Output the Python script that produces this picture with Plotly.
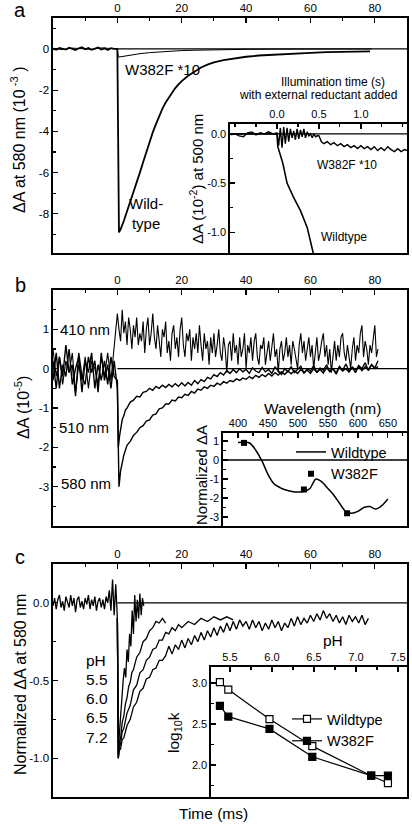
import plotly.graph_objects as go

FONT = "Liberation Sans, Arial, sans-serif"
W, H = 412, 824


def px(x):
    return x / W


def py(y):
    return 1 - y / H


# ---------------- Panel a (main) ----------------
a_wt_t = [-20, -19, -18, -17, -16, -15, -14, -13, -12, -11, -10, -9, -8, -7, -6, -5, -4, -3, -2, -1, 0,
          0.5, 1, 2, 3, 4, 5, 6, 7, 8, 9, 10, 11, 12, 13, 14, 15, 16, 17, 18, 19, 20, 22, 24, 26, 28,
          30, 33, 36, 40, 44, 48, 52, 56, 60, 65, 70, 75, 78.5]
a_wt_y = [0.02, -0.04, 0.05, 0.0, -0.03, 0.06, 0.01, -0.05, 0.03, 0.08, -0.02, 0.04, -0.04, 0.02, 0.07,
          -0.03, 0.03, -0.05, 0.04, 0.0, 0.0,
          -8.9, -8.75, -8.35, -7.9, -7.45, -7.0, -6.5, -6.0, -5.5, -5.0, -4.5, -4.05, -3.65, -3.25, -2.9,
          -2.6, -2.35, -2.1, -1.9, -1.72, -1.56, -1.3, -1.08, -0.9, -0.76, -0.65, -0.54, -0.46, -0.38,
          -0.32, -0.28, -0.24, -0.21, -0.19, -0.16, -0.14, -0.13, -0.12]

a_mut_t = [-20, -17, -14, -11, -8, -5, -2, 0, 0.3, 1, 2, 3, 5, 7, 10, 13, 16, 20, 25, 30, 35, 40, 50,
           60, 70, 79]
a_mut_y = [0.02, -0.03, 0.04, 0.0, -0.02, 0.05, 0.0, 0.0, -0.4, -0.38, -0.35, -0.32, -0.27, -0.23,
           -0.18, -0.14, -0.11, -0.08, -0.06, -0.04, -0.03, -0.02, -0.01, 0.0, 0.0, 0.0]

# ---------------- Panel a (inset) ----------------
ai_wt_t = [-0.55, -0.4, -0.2, 0.0, 0.01, 0.04, 0.07, 0.12, 0.195, 0.28, 0.36, 0.435, 0.46]
ai_wt_y = [0.0, 0.0, 0.0, 0.0, -0.13, -0.22, -0.3, -0.5, -0.64, -0.78, -0.95, -1.22, -1.3]

ai_mut_t = [-0.55, -0.5, -0.45, -0.4, -0.35, -0.3, -0.25, -0.2, -0.15, -0.1, -0.05, 0.0,
            0.02, 0.04, 0.06, 0.08, 0.10, 0.12, 0.14, 0.16, 0.18, 0.20, 0.22, 0.24, 0.26, 0.28,
            0.30, 0.32, 0.34, 0.36, 0.38, 0.40, 0.42, 0.44, 0.46, 0.48, 0.50,
            0.53, 0.56, 0.6, 0.64, 0.68, 0.72, 0.76, 0.8, 0.84, 0.88, 0.92, 0.96, 1.0, 1.04, 1.08,
            1.12, 1.16, 1.2, 1.24, 1.28, 1.32, 1.36, 1.4, 1.44, 1.48, 1.52, 1.55]
ai_mut_y = [-0.01, 0.0, -0.02, -0.03, 0.01, 0.02, -0.01, 0.01, 0.0, 0.02, 0.0, 0.01,
            -0.12, 0.06, -0.14, 0.07, -0.1, 0.06, -0.08, 0.05, -0.04, 0.03, -0.06, 0.05, -0.05, 0.04,
            -0.03, 0.05, -0.04, 0.02, -0.02, 0.0, -0.04, 0.0, -0.03, -0.02, -0.02,
            -0.08, -0.1, -0.08, -0.11, -0.09, -0.12, -0.1, -0.13, -0.11, -0.14, -0.12, -0.15, -0.12,
            -0.15, -0.13, -0.16, -0.13, -0.17, -0.14, -0.17, -0.13, -0.16, -0.18, -0.15, -0.18, -0.16,
            -0.17]

# ---------------- Panel b (main) ----------------
b_t_pre = [-20, -19, -18, -17, -16, -15, -14, -13, -12, -11, -10, -9, -8, -7, -6, -5, -4, -3, -2, -1]
b_410_pre = [0.5, -0.2, 0.3, -0.4, 0.2, -0.1, 0.4, -0.6, 0.1, -0.3, 0.3, -0.5, 0.2, 0.0, -0.4, 0.3,
             -0.2, 0.4, -0.3, 0.5]
b_510_pre = [-0.3, 0.4, -0.5, 0.1, -0.2, 0.5, -0.4, 0.0, 0.3, -0.6, 0.2, -0.1, 0.4, -0.5, 0.1, -0.3,
             0.2, -0.4, 0.3, -0.2]
b_580_pre = [0.2, -0.5, 0.3, -0.2, 0.6, -0.1, 0.1, -0.7, 0.4, -0.2, -0.4, 0.3, -0.1, 0.2, -0.6, 0.4,
             -0.3, 0.1, -0.5, 0.2]

b_t_410 = [0, 0.5, 1, 1.5, 2, 2.5, 3, 3.5, 4, 4.5, 5, 5.5, 6, 6.5, 7, 7.5, 8, 8.5, 9, 9.5,
           10, 10.5, 11, 11.5, 12, 12.5, 13, 13.5, 14, 14.5, 15, 15.5, 16, 16.5, 17, 17.5, 18, 18.5,
           19, 19.5, 20, 20.5, 21, 21.5, 22, 22.5, 23, 23.5, 24, 24.5, 25, 25.5, 26, 26.5, 27, 27.5,
           28, 28.5, 29, 29.5, 30, 30.5, 31, 31.5, 32, 32.5, 33, 33.5, 34, 34.5, 35, 35.5, 36, 36.5,
           37, 37.5, 38, 38.5, 39, 39.5, 40, 40.5, 41, 41.5, 42, 42.5, 43, 43.5, 44, 44.5, 45, 45.5,
           46, 46.5, 47, 47.5, 48, 48.5, 49, 49.5, 50, 50.5, 51, 51.5, 52, 52.5, 53, 53.5, 54, 54.5,
           55, 55.5, 56, 56.5, 57, 57.5, 58, 58.5, 59, 59.5, 60, 60.5, 61, 61.5, 62, 62.5, 63, 63.5,
           64, 64.5, 65, 65.5, 66, 66.5, 67, 67.5, 68, 68.5, 69, 69.5, 70, 70.5, 71, 71.5, 72, 72.5,
           73, 73.5, 74, 74.5, 75, 75.5, 76, 76.5, 77, 77.5, 78, 78.5, 79, 79.5, 80, 80.5, 81]
b_410_post = [1.4, 1.0, 0.7, 1.5, 0.9, 1.2, 0.6, 1.3, 1.0, 0.5,
              1.1, 0.8, 1.3, 0.6, 0.9, 0.7, 1.2, 0.4, 1.0, 1.3,
              0.6, 0.9, 1.4, 0.8, 0.5, 1.1, 0.7, 0.3, 1.0, 0.8,
              1.2, 0.4, 0.7, 0.2, 0.9, 1.1, 0.5, 0.8, 0.3, 1.0,
              1.3, 0.6, 0.3, 0.9, 0.7, 1.0, 0.2, 0.8, 0.5, 0.9,
              0.4, 1.1, 0.6, 0.2, 0.9, 0.5, 0.7, 0.1, 0.8, 0.4,
              0.9, 0.3, 0.6, 1.0, 0.4, 0.2, 0.8, 0.5, -0.1, 0.6,
              0.7, 0.2, 0.9, 0.4, 0.6, 0.1, 0.8, 0.3, 0.5, 0.9,
              0.0, 0.6, 0.4, 0.8, 0.2, 0.7, 0.9, 0.3, 0.1, 0.6,
              0.5, 0.8, 0.1, 0.4, 0.7, 0.2, 0.6, 0.9, 0.3, 0.5,
              -0.1, 0.5, 0.7, 0.2, 0.4, 0.8, 0.3, 0.6, 0.1, 0.7,
              0.5, 0.2, 0.0, 0.6, 0.9, 0.4, 0.7, 0.2, 0.5, 0.8,
              0.3, 0.6, 0.0, 0.5, 0.8, 0.2, 0.4, 0.7, 0.9, 0.3,
              0.6, 0.1, 0.5, -0.1, 0.4, 0.7, 0.2, 0.6, 0.3, 0.8,
              0.9, 0.4, 0.2, 0.6, 0.3, 0.0, 0.5, 0.8, 0.2, 0.6,
              0.4, 0.9, 1.1, 0.3, 0.7, 0.5, 0.1, 0.6, 0.4, 0.8,
              1.1, 0.3, 0.5]

b_t_early510 = [0, 0.3, 0.7, 1, 1.5, 2, 2.5, 3]
b_510_early = [-0.3, -2.0, -1.7, -1.55, -1.3, -1.2, -1.05, -1.0]
b_t_early580 = [0, 0.5, 1, 1.5, 2, 3]
b_580_early = [-0.5, -3.0, -2.6, -2.35, -2.2, -1.95]
b_t_late = [4, 5, 6, 7, 8, 9, 10, 11, 12, 13, 14, 15, 16, 17, 18, 19, 20, 21, 22, 23, 24, 25, 26, 27,
            28, 29, 30, 31, 32, 33, 34, 35, 36, 37, 38, 39, 40, 41, 42, 43, 44, 45, 46, 47, 48, 49, 50,
            51, 52, 53, 54, 55, 56, 57, 58, 59, 60, 61, 62, 63, 64, 65, 66, 67, 68, 69, 70, 71, 72, 73,
            74, 75, 76, 77, 78, 79, 80, 81]
b_510_late = [-0.85, -0.8, -0.7, -0.72, -0.6, -0.58, -0.5, -0.55, -0.45, -0.5, -0.42, -0.48, -0.4,
              -0.46, -0.38, -0.45, -0.36, -0.44, -0.35, -0.42, -0.3, -0.38, -0.28, -0.33, -0.22, -0.26,
              -0.15, -0.2, -0.1, -0.16, -0.05, -0.12, -0.02, -0.1, 0.0, -0.08, -0.02, -0.12, 0.02, -0.06,
              -0.1, 0.03, -0.08, -0.02, -0.12, 0.04, -0.05, -0.15, 0.0, -0.08, 0.05, -0.1, -0.02, 0.06,
              -0.12, 0.0, -0.06, 0.08, -0.1, 0.02, -0.04, 0.1, -0.08, 0.0, -0.14, 0.06, -0.04, 0.12,
              -0.06, 0.02, -0.1, 0.08, 0.0, 0.15, -0.05, 0.1, 0.02, 0.2]
b_580_late = [-1.85, -1.7, -1.62, -1.5, -1.45, -1.33, -1.3, -1.18, -1.15, -1.02, -1.0, -0.9, -0.9,
              -0.8, -0.82, -0.72, -0.74, -0.65, -0.68, -0.58, -0.62, -0.52, -0.55, -0.46, -0.5, -0.42,
              -0.45, -0.37, -0.41, -0.33, -0.37, -0.3, -0.33, -0.26, -0.3, -0.24, -0.27, -0.2, -0.25,
              -0.17, -0.22, -0.15, -0.2, -0.12, -0.19, -0.1, -0.16, -0.08, -0.15, -0.06, -0.13, -0.05,
              -0.12, -0.02, -0.1, -0.04, -0.12, 0.0, -0.09, -0.02, -0.11, 0.02, -0.07, -0.01, -0.1,
              0.03, -0.06, 0.0, -0.09, 0.04, -0.03, 0.06, -0.05, 0.05, -0.02, 0.1, 0.0, 0.05]

# ---------------- Panel b (inset) ----------------
bi_wt_wl = [400, 410, 420, 430, 440, 450, 460, 470, 480, 490, 500, 510, 520, 530, 540, 550, 560, 570,
            580, 590, 600, 610, 620, 630, 640, 650]
bi_wt_y = [0.92, 0.93, 0.88, 0.5, -0.05, -0.75, -1.25, -1.45, -1.58, -1.65, -1.68, -1.66, -1.5, -1.0,
           -1.15, -1.5, -1.85, -2.3, -2.72, -2.8, -2.7, -2.5, -2.45, -2.58, -2.4, -2.05]
bi_mut_wl = [410, 510, 582]
bi_mut_y = [0.9, -1.55, -2.8]

# ---------------- Panel c (main) ----------------
c_t_base = [-20, -19.5, -19, -18.5, -18, -17.5, -17, -16.5, -16, -15.5, -15, -14.5, -14, -13.5, -13,
            -12.5, -12, -11.5, -11, -10.5, -10, -9.5, -9, -8.5, -8, -7.5, -7, -6.5, -6, -5.5, -5,
            -4.5, -4, -3.5, -3, -2.5, -2, -1.5, -1, -0.5, 0]
c_y_base = [-0.02, 0.03, -0.04, 0.02, 0.05, -0.03, 0.01, -0.05, 0.04, 0.0,
            -0.03, 0.05, -0.02, 0.03, -0.06, 0.02, 0.04, -0.03, 0.01, -0.04,
            0.03, -0.01, 0.05, -0.04, 0.02, -0.02, 0.04, -0.05, 0.01, 0.03,
            -0.03, 0.02, -0.04, 0.04, 0.0, 0.08, -0.05, 0.15, -0.08, 0.12,
            -0.1]

c_t_55 = [0, 0.3, 0.6, 1.0, 1.4, 1.8, 2.2, 2.6, 3.0, 3.4, 3.8, 4.2, 4.6, 5.0, 5.4, 5.8, 6.2, 6.6, 7.0,
          7.4, 7.8, 8.2]
c_y_55 = [-0.1, -1.0, -0.85, -0.72, -0.62, -0.5, -0.42, -0.48, -0.3, -0.38, -0.2, -0.28, -0.05, -0.2,
          0.05, -0.12, 0.02, -0.1, 0.06, -0.08, 0.03, -0.02]
c_t_60 = [0, 0.3, 0.6, 1, 1.5, 2, 2.5, 3, 3.5, 4, 4.5, 5, 6, 7, 8, 9, 10, 11, 12, 13, 14, 15]
c_y_60 = [-0.1, -1.0, -0.9, -0.87, -0.77, -0.73, -0.65, -0.61, -0.54, -0.51, -0.45, -0.43, -0.35,
          -0.32, -0.25, -0.23, -0.18, -0.16, -0.12, -0.13, -0.1, -0.13]
c_t_65 = [0, 0.3, 0.6, 1, 1.5, 2, 3, 4, 5, 6, 7, 8, 9, 10, 11, 12, 13, 14, 15, 16, 17, 18, 19, 20, 22,
          24, 26, 28, 30, 32, 34, 36]
c_y_65 = [-0.1, -0.98, -0.93, -0.91, -0.83, -0.81, -0.71, -0.66, -0.56, -0.53, -0.45, -0.43, -0.37,
          -0.35, -0.3, -0.29, -0.24, -0.24, -0.19, -0.2, -0.16, -0.18, -0.14, -0.16, -0.12, -0.14,
          -0.1, -0.12, -0.09, -0.11, -0.09, -0.11]
c_t_72 = [0, 0.3, 0.6, 1, 1.5, 2, 3, 4, 5, 6, 7, 8, 9, 10, 11, 12, 13, 14,
          15, 16, 17, 18, 19, 20, 21, 22, 23, 24, 25, 26, 27, 28, 29, 30, 31, 32, 33, 34, 35, 36, 37,
          38, 39, 40, 41, 42, 43, 44, 45, 46, 47, 48, 49, 50, 51, 52, 53, 54, 55, 56, 57, 58, 59, 60,
          61, 62, 63, 64, 65, 66, 67, 68, 69, 70, 71, 72, 73, 74, 75, 76, 77, 78]
c_y_72 = [-0.1, -1.0, -0.95, -0.94, -0.88, -0.87, -0.79, -0.75, -0.67, -0.64, -0.57, -0.55, -0.49,
          -0.48, -0.43, -0.42, -0.37, -0.37,
          -0.34, -0.28, -0.33, -0.27, -0.3, -0.24, -0.29, -0.23, -0.27, -0.21,
          -0.25, -0.19, -0.24, -0.18, -0.22, -0.16, -0.21, -0.15, -0.19, -0.13,
          -0.18, -0.12, -0.17, -0.11, -0.15, -0.12, -0.17, -0.11, -0.16, -0.12,
          -0.18, -0.13, -0.17, -0.11, -0.16, -0.12, -0.18, -0.13, -0.16, -0.1,
          -0.15, -0.09, -0.14, -0.1, -0.13, -0.08, -0.12, -0.07, -0.11, -0.05,
          -0.1, -0.07, -0.12, -0.08, -0.13, -0.09, -0.14, -0.08, -0.12, -0.09,
          -0.13, -0.08, -0.14, -0.1]

# ---------------- Panel c (inset) ----------------
ci_ph = [5.38, 5.48, 5.97, 6.48, 7.18, 7.38]
ci_wt = [3.01, 2.92, 2.56, 2.23, 1.87, 1.78]
ci_mut = [2.72, 2.59, 2.44, 2.10, 1.87, 1.87]

# tick labels
main_x_ticks = [0, 20, 40, 60, 80]
a_y_ticks = [0, -2, -4, -6, -8]
ai_x_ticks = [0.0, 0.5, 1.0]
ai_y_ticks = [0.0, -0.5, -1.0]
b_y_ticks = [1, 0, -1, -2, -3]
bi_x_ticks = [400, 450, 500, 550, 600, 650]
bi_y_ticks = [1, 0, -1, -2, -3]
c_y_ticks = [0.0, -0.5, -1.0]
ci_x_ticks = [5.5, 6.0, 6.5, 7.0, 7.5]
ci_y_ticks = [3.0, 2.5, 2.0]


def lbl(vals, fmt):
    return [fmt.format(v) for v in vals]


def xax(dom, rng, tv, tt, mdt, anchor, fs=11.5):
    return dict(domain=dom, range=rng, side="top", tickmode="array", tickvals=tv, ticktext=tt,
                ticks="inside", ticklen=5, tickwidth=1.3, tickcolor="black", showline=True,
                linecolor="black", linewidth=1.6, mirror=True, showgrid=False, zeroline=False,
                tickfont=dict(size=fs, color="black", family=FONT), anchor=anchor, fixedrange=True,
                minor=dict(tickmode="linear", tick0=0, dtick=mdt, ticks="inside", ticklen=3,
                           tickwidth=1.1, tickcolor="black", showgrid=False))


def yax(dom, rng, tv, tt, mdt, anchor, fs=11.5):
    return dict(domain=dom, range=rng, tickmode="array", tickvals=tv, ticktext=tt,
                ticks="inside", ticklen=5, tickwidth=1.3, tickcolor="black", showline=True,
                linecolor="black", linewidth=1.6, mirror=True, showgrid=False, zeroline=False,
                tickfont=dict(size=fs, color="black", family=FONT), anchor=anchor, fixedrange=True,
                minor=dict(tickmode="linear", tick0=0, dtick=mdt, ticks="inside", ticklen=3,
                           tickwidth=1.1, tickcolor="black", showgrid=False))


fig = go.Figure()
K = "black"


def line(x, y, xa, ya, w=1.0, **kw):
    fig.add_trace(go.Scatter(x=x, y=y, mode="lines", line=dict(color=K, width=w), xaxis=xa, yaxis=ya,
                             showlegend=False, hoverinfo="skip", **kw))


# panel a
line(a_mut_t, a_mut_y, "x", "y", 1.0)
line(a_wt_t, a_wt_y, "x", "y", 1.8)
line(ai_mut_t, ai_mut_y, "x2", "y2", 1.4)
line(ai_wt_t, ai_wt_y, "x2", "y2", 1.6)
# panel b
line(b_t_pre + b_t_410, b_410_pre + b_410_post, "x3", "y3", 1.1)
line(b_t_pre + b_t_early510 + b_t_late, b_510_pre + b_510_early + b_510_late, "x3", "y3", 1.4)
line(b_t_pre + b_t_early580 + b_t_late, b_580_pre + b_580_early + b_580_late, "x3", "y3", 1.4)
# panel b inset
fig.add_trace(go.Scatter(x=bi_wt_wl, y=bi_wt_y, mode="lines", name="Wildtype",
                         line=dict(color=K, width=1.5, shape="spline", smoothing=0.8),
                         xaxis="x4", yaxis="y4", legend="legend2", hoverinfo="skip"))
fig.add_trace(go.Scatter(x=bi_mut_wl, y=bi_mut_y, mode="markers", name="W382F",
                         marker=dict(symbol="square", size=6, color=K),
                         xaxis="x4", yaxis="y4", legend="legend2", hoverinfo="skip"))
# panel c
line(c_t_base, c_y_base, "x5", "y5", 1.3)
line(c_t_55, c_y_55, "x5", "y5", 1.3)
line(c_t_60, c_y_60, "x5", "y5", 1.3)
line(c_t_65, c_y_65, "x5", "y5", 1.3)
line(c_t_72, c_y_72, "x5", "y5", 1.3)
# panel c inset
fig.add_trace(go.Scatter(x=ci_ph, y=ci_wt, mode="lines+markers", name="Wildtype",
                         line=dict(color=K, width=1.2),
                         marker=dict(symbol="square", size=7, color="white", line=dict(color=K, width=1.2)),
                         xaxis="x6", yaxis="y6", legend="legend3", hoverinfo="skip"))
fig.add_trace(go.Scatter(x=ci_ph, y=ci_mut, mode="lines+markers", name="W382F",
                         line=dict(color=K, width=1.2),
                         marker=dict(symbol="square", size=7, color=K, line=dict(color=K, width=1.2)),
                         xaxis="x6", yaxis="y6", legend="legend3", hoverinfo="skip"))

XM = [px(53), px(407)]
layout = dict(
    width=W, height=H, autosize=False, margin=dict(l=0, r=0, t=0, b=0),
    paper_bgcolor="white", plot_bgcolor="white",
    font=dict(family=FONT, color="black", size=12),
    showlegend=True,
    xaxis=xax(XM, [-20, 90], main_x_ticks, lbl(main_x_ticks, "{:d}"), 10, "y"),
    yaxis=yax([py(253), py(18)], [-9.9, 1.5], a_y_ticks, lbl(a_y_ticks, "{:d}"), 1, "x"),
    xaxis2=xax([px(230), px(407)], [-0.56, 1.55], ai_x_ticks, lbl(ai_x_ticks, "{:.1f}"), 0.25, "y2", 11),
    yaxis2=yax([py(253), py(124)], [-1.21, 0.1], ai_y_ticks, lbl(ai_y_ticks, "{:.1f}"), 0.25, "x2", 11),
    xaxis3=xax(XM, [-20, 90], main_x_ticks, lbl(main_x_ticks, "{:d}"), 10, "y3"),
    yaxis3=yax([py(526), py(290)], [-4, 2], b_y_ticks, lbl(b_y_ticks, "{:d}"), 0.5, "x3"),
    xaxis4=xax([px(223), px(407)], [375, 682], bi_x_ticks, lbl(bi_x_ticks, "{:d}"), 25, "y4", 11),
    yaxis4=yax([py(526), py(433)], [-3.47, 1.42], bi_y_ticks, lbl(bi_y_ticks, "{:d}"), 0.5, "x4", 11),
    xaxis5=xax(XM, [-20, 90], main_x_ticks, lbl(main_x_ticks, "{:d}"), 10, "y5"),
    yaxis5=yax([py(797), py(564)], [-1.25, 0.25], c_y_ticks, lbl(c_y_ticks, "{:.1f}"), 0.25, "x5"),
    xaxis6=xax([px(211), px(407)], [5.274, 7.607], ci_x_ticks, lbl(ci_x_ticks, "{:.1f}"), 0.25, "y6", 11),
    yaxis6=yax([py(797), py(667)], [1.61, 3.195], ci_y_ticks, lbl(ci_y_ticks, "{:.1f}"), 0.25, "x6", 11),
    legend2=dict(x=px(291), y=py(436), xanchor="left", yanchor="top", bgcolor="rgba(0,0,0,0)",
                 borderwidth=0, font=dict(size=14.5, family=FONT, color=K), tracegroupgap=0,
                 itemclick=False, itemdoubleclick=False),
    legend3=dict(x=px(287), y=py(703), xanchor="left", yanchor="top", bgcolor="rgba(0,0,0,0)",
                 borderwidth=0, font=dict(size=14.5, family=FONT, color=K), tracegroupgap=0,
                 itemclick=False, itemdoubleclick=False),
)
fig.update_layout(**layout)

# zero reference lines
zl = dict(color=K, width=1.3)
fig.add_shape(type="line", xref="x", yref="y", x0=0, x1=90, y0=0, y1=0, line=zl)
fig.add_shape(type="line", xref="x2", yref="y2", x0=-0.56, x1=1.55, y0=0, y1=0, line=zl)
fig.add_shape(type="line", xref="x3", yref="y3", x0=0, x1=90, y0=0, y1=0, line=zl)
fig.add_shape(type="line", xref="x4", yref="y4", x0=375, x1=682, y0=0, y1=0, line=zl)
fig.add_shape(type="line", xref="x5", yref="y5", x0=0, x1=90, y0=0, y1=0, line=zl)


def ann(text, x, y, size=15, angle=0, xanchor="center"):
    fig.add_annotation(text=text, x=px(x), y=py(y), xref="paper", yref="paper", showarrow=False,
                       textangle=angle, xanchor=xanchor, yanchor="middle",
                       font=dict(size=size, family=FONT, color=K))


# panel letters
ann("a", 20, 10, 20)
ann("b", 20, 285, 20)
ann("c", 20, 557, 20)
# axis titles
ann("ΔA at 580 nm (10<sup> -3</sup> )", 18, 140, 16, -90)
ann("ΔA (10<sup>-5</sup>)", 22, 408, 16, -90)
ann("Normalized ΔA at 580 nm", 20, 685, 16, -90)
ann("Time (ms)", 213, 813, 15.5)
# panel a texts
ann("W382F *10", 162, 70, 15)
ann("Wild-<br>type", 146, 213, 15)
ann("Illumination time (s)", 333, 82, 12)
ann("with external reductant added", 318, 95, 12)
ann("ΔA (10<sup>-2</sup>) at 500 nm", 197, 179, 15, -90)
ann("W382F *10", 347, 165, 12)
ann("Wildtype", 344, 237, 12)
# panel b texts
ann("410 nm", 85, 330, 15)
ann("510 nm", 84, 427, 15)
ann("580 nm", 86, 483, 15)
ann("Wavelength (nm)", 322, 408, 15.5)
ann("Normalized ΔA", 201, 475, 15, -90)
# panel c texts
ann("pH", 96, 660, 15.5)
ann("5.5", 97, 679, 15.5)
ann("6.0", 97, 698, 15.5)
ann("6.5", 97, 717, 15.5)
ann("7.2", 97, 737, 15.5)
ann("pH", 333, 640, 15.5)
ann("log<sub>10</sub>k", 174, 733, 15.5, -90)

fig.write_html("out.html", config={"displayModeBar": False, "staticPlot": True},
               post_script="document.body.style.margin='0px';document.body.style.overflow='hidden';")
